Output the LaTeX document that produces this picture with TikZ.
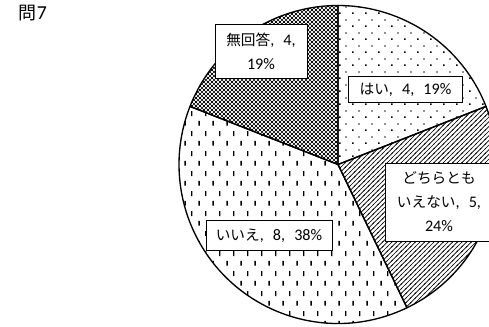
\documentclass[tikz,border=0pt]{standalone}
\usepackage{fontspec}
\setmainfont{Carlito}[Scale=1.1, WordSpace=2.5]
\newfontfamily\jp{Noto Sans CJK JP}
\usetikzlibrary{patterns.meta}

\tikzdeclarepattern{
  name=sparse dots,
  type=uncolored,
  bounding box={(0pt,0pt) and (9.75pt,9.75pt)},
  tile size={(9.75pt,9.75pt)},
  code={
    \fill (1pt,1pt) rectangle (2.1pt,2.1pt);
    \fill (5.875pt,5.875pt) rectangle (6.975pt,6.975pt);
  }
}
\tikzdeclarepattern{
  name=fine hatch,
  type=uncolored,
  bounding box={(-1pt,-1pt) and (4.5pt,4.5pt)},
  tile size={(3.5pt,3.5pt)},
  code={
    \draw[line width=0.5pt] (-0.5pt,-0.5pt) -- (4pt,4pt);
  }
}
\tikzdeclarepattern{
  name=dash grid,
  type=uncolored,
  bounding box={(0pt,0pt) and (10.5pt,15pt)},
  tile size={(10.5pt,15pt)},
  code={
    \fill (2pt,1pt) rectangle (3.1pt,4.9pt);
    \fill (7.25pt,8.5pt) rectangle (8.35pt,12.4pt);
  }
}
\tikzdeclarepattern{
  name=dense mesh,
  type=uncolored,
  bounding box={(-1pt,-1pt) and (4pt,4pt)},
  tile size={(3pt,3pt)},
  code={
    \draw[line width=0.45pt] (-0.5pt,-0.5pt) -- (3.5pt,3.5pt);
    \draw[line width=0.45pt] (-0.5pt,3.5pt) -- (3.5pt,-0.5pt);
  }
}

\tikzstyle{databox} = [rectangle, draw=black, fill=white, line width=0.75pt, align=center, inner sep=2pt, font=\fontsize{11}{18}\selectfont]
\tikzstyle{slice} = [draw=black, line width=1pt, line join=round]

\begin{document}
\begin{tikzpicture}[x=0.75pt, y=0.75pt]
  \useasboundingbox (0,0) rectangle (489,326);
  \clip (0,0) rectangle (489,326);

  \coordinate (Center) at (338,161.5);
  \draw [slice, pattern=sparse dots] (Center) -- ++(90:159) arc [start angle=90, end angle=21.43, radius=159] -- cycle;
  \draw [slice, pattern=fine hatch] (Center) -- ++(21.43:159) arc [start angle=21.43, end angle=-64.29, radius=159] -- cycle;
  \draw [slice, pattern=dash grid] (Center) -- ++(-64.29:159) arc [start angle=-64.29, end angle=-201.43, radius=159] -- cycle;
  \draw [slice, pattern=dense mesh] (Center) -- ++(158.57:159) arc [start angle=158.57, end angle=90, radius=159] -- cycle;

  \node (Title) at (33,313) [font=\fontsize{13.5}{16}\selectfont] {{\jp 問}7};
  \node (No Answer) at (261,274.5) [databox, minimum width=69pt, minimum height=40pt] {{\jp 無回答}, 4,\\19\%};
  \node (Yes) at (405.5,236.5) [databox, minimum width=86pt, minimum height=19pt] {{\jp はい}, 4, 19\%};
  \node (Neutral) at (439,124) [databox, minimum width=81pt, minimum height=58.5pt] {{\jp どちらとも}\\{\jp いえない}, 5,\\24\%};
  \node (No) at (269,90.5) [databox, minimum width=94.5pt, minimum height=23pt] {{\jp いいえ}, 8, 38\%};
\end{tikzpicture}
\end{document}
